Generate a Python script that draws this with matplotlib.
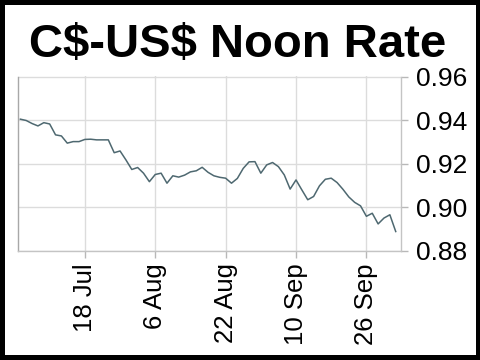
import matplotlib
matplotlib.use("Agg")
import matplotlib.pyplot as plt
from matplotlib.patches import Rectangle

plt.rcParams['font.family'] = ['Liberation Sans', 'DejaVu Sans']

title = r"C\$-US\$ Noon Rate"

# daily noon rate (trading days, 3 Jul - 3 Oct)
rates = [0.9404, 0.9398, 0.9384, 0.9373, 0.9388, 0.9382, 0.9332, 0.9327, 0.9294, 0.9301,
         0.9301, 0.9311, 0.9312, 0.9309, 0.9309, 0.9309, 0.9250, 0.9258, 0.9217, 0.9173,
         0.9182, 0.9156, 0.9117, 0.9150, 0.9156, 0.9110, 0.9144, 0.9138, 0.9147, 0.9162,
         0.9167, 0.9183, 0.9160, 0.9144, 0.9137, 0.9133, 0.9110, 0.9132, 0.9178, 0.9208,
         0.9209, 0.9156, 0.9194, 0.9205, 0.9186, 0.9148, 0.9083, 0.9125, 0.9079, 0.9034,
         0.9049, 0.9098, 0.9128, 0.9133, 0.9113, 0.9082, 0.9047, 0.9022, 0.9006, 0.8958,
         0.8972, 0.8923, 0.8950, 0.8965, 0.8888]

xtick_pos = [11, 23, 35, 47, 59]
xtick_labels = ["18 Jul", "6 Aug", "22 Aug", "10 Sep", "26 Sep"]
ytick_vals = [0.88, 0.90, 0.92, 0.94, 0.96]
ytick_labels = ["0.88", "0.90", "0.92", "0.94", "0.96"]

fig = plt.figure(figsize=(4.81, 3.6), dpi=100)
ax = fig.add_axes([18/481, 1 - 250.7/360, (401 - 18)/481, (250.7 - 76.5)/360])

ax.plot(range(len(rates)), rates, color='#4e6870', linewidth=1.1)

ax.set_xlim(-0.4, 64.9)
ax.set_ylim(0.88, 0.96)
ax.set_xticks(xtick_pos)
ax.set_xticklabels(xtick_labels, rotation=90, fontsize=18.5)
ax.set_yticks(ytick_vals)
ax.set_yticklabels(ytick_labels, fontsize=19)
ax.yaxis.tick_right()
ax.tick_params(axis='both', color='#b8b8b8', length=5, width=1, pad=4)
ax.tick_params(axis='y', pad=6)

ax.grid(True, color='#dcdcdc', linewidth=1)
ax.set_axisbelow(True)
for side in ['left', 'bottom', 'right']:
    ax.spines[side].set_color('#c4c4c4')
    ax.spines[side].set_linewidth(1)
ax.spines['left'].set_color('#a8a8a8')
ax.spines['top'].set_visible(False)

fig.text(237.5/481, 1 - 57/360, title, ha='center', va='baseline',
         fontsize=34, fontweight='bold', color='black')

fig.patches.append(Rectangle((0, 0), 1, 1, transform=fig.transFigure, fill=False,
                             edgecolor='black', linewidth=7.2, zorder=10))

fig.savefig("out.png", dpi=100)
